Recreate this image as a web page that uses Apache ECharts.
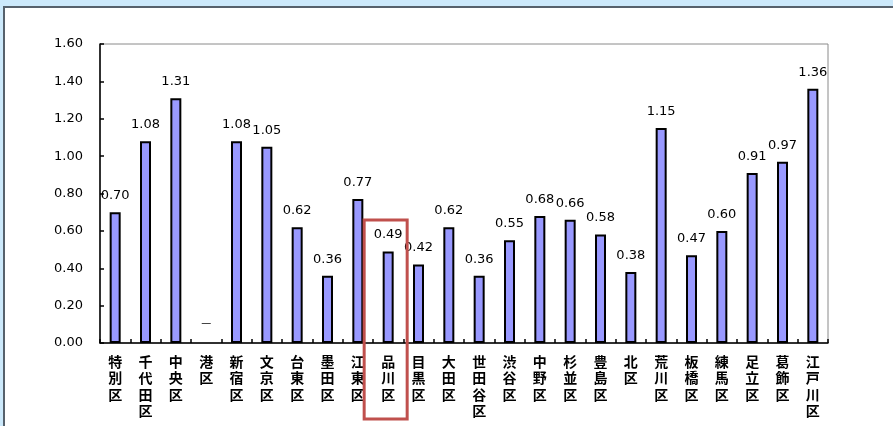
<!DOCTYPE html>
<html>
<head>
<meta charset="utf-8">
<script src="https://cdn.jsdelivr.net/npm/echarts@6/dist/echarts.min.js"></script>
<style>
  html, body { margin: 0; padding: 0; }
  body { width: 893px; height: 426px; background: #cce9fb; position: relative; overflow: hidden; }
  #panel { position: absolute; left: 3px; top: 6px; right: 0; bottom: 0; background: #fff;
           border-top: 2px solid #56616c; border-left: 2px solid #56616c; }
  #chart { position: absolute; left: 0; top: 0; width: 893px; height: 426px; }
</style>
</head>
<body>
<div id="panel"></div>
<div id="chart"></div>
<script>
// Wards of Tokyo (with the ward-area average first)
const categories = ['特別区', '千代田区', '中央区', '港区', '新宿区', '文京区', '台東区', '墨田区',
  '江東区', '品川区', '目黒区', '大田区', '世田谷区', '渋谷区', '中野区', '杉並区', '豊島区',
  '北区', '荒川区', '板橋区', '練馬区', '足立区', '葛飾区', '江戸川区'];
// Values per ward; null = no figure (shown as a dash)
const values = [0.70, 1.08, 1.31, null, 1.08, 1.05, 0.62, 0.36, 0.77, 0.49, 0.42, 0.62,
  0.36, 0.55, 0.68, 0.66, 0.58, 0.38, 1.15, 0.47, 0.60, 0.91, 0.97, 1.36];
// Value axis ticks
const yTicks = [0.00, 0.20, 0.40, 0.60, 0.80, 1.00, 1.20, 1.40, 1.60];
const highlightedWard = '品川区';
const missingMark = '—';

const numFont = '"DejaVu Sans", "Liberation Sans", sans-serif';
const cjkFont = '"Noto Sans CJK JP", sans-serif';

const seriesData = values.map(function (v) {
  if (v === null) {
    return {
      value: 0,
      itemStyle: { color: 'transparent', borderWidth: 0 },
      label: { formatter: missingMark, fontSize: 10, distance: 15 }
    };
  }
  return v;
});

const chart = echarts.init(document.getElementById('chart'), null, { renderer: 'canvas' });
chart.setOption({
  backgroundColor: 'transparent',
  animation: false,
  grid: {
    left: 100, right: 65, top: 44, bottom: 83,
    show: true, borderColor: '#8a8a8a', borderWidth: 1, backgroundColor: 'transparent'
  },
  xAxis: {
    type: 'category',
    data: categories,
    axisLine: { lineStyle: { color: '#000', width: 1.5 } },
    axisTick: { show: true, inside: true, length: 4, lineStyle: { color: '#000', width: 1.5 } },
    axisLabel: {
      interval: 0,
      margin: 10,
      color: '#000',
      fontFamily: cjkFont,
      fontWeight: 'bold',
      fontSize: 14,
      lineHeight: 16.5,
      verticalAlign: 'top',
      formatter: function (name) { return name.split('').join('\n'); }
    },
    splitLine: { show: false }
  },
  yAxis: {
    type: 'value',
    min: yTicks[0],
    max: yTicks[yTicks.length - 1],
    interval: yTicks[1] - yTicks[0],
    axisLine: { show: true, lineStyle: { color: '#000', width: 1.5 } },
    axisTick: { show: true, inside: true, length: 4, lineStyle: { color: '#000', width: 1.5 } },
    axisLabel: {
      margin: 17,
      color: '#000',
      fontFamily: numFont,
      fontSize: 13,
      formatter: function (v) { return v.toFixed(2); }
    },
    splitLine: { show: false }
  },
  series: [{
    type: 'bar',
    data: seriesData,
    barWidth: 11,
    itemStyle: { color: '#9999ff', borderColor: '#000', borderWidth: 2 },
    label: {
      show: true,
      position: 'top',
      distance: 10,
      color: '#000',
      fontFamily: numFont,
      fontSize: 13,
      formatter: function (p) { return p.value.toFixed(2); }
    }
  }]
});

// Red frame around the highlighted ward's column
const cx = chart.convertToPixel({ xAxisIndex: 0 }, highlightedWard);
chart.setOption({
  graphic: [{
    type: 'rect',
    shape: { x: cx - 24, y: 220, width: 43, height: 199 },
    style: { fill: 'none', stroke: '#c0504d', lineWidth: 3 },
    z: 100
  }]
});
</script>
</body>
</html>
